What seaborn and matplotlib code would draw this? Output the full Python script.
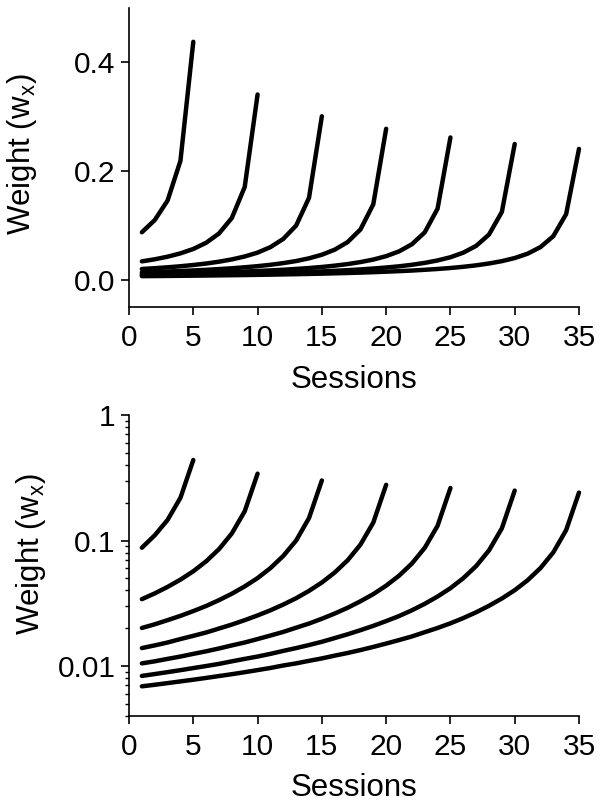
import matplotlib
matplotlib.use("Agg")
import matplotlib.pyplot as plt
import matplotlib.ticker as mticker
import seaborn as sns
import pandas as pd

# weights per session, one list per schedule length
w5 = [0.0876, 0.110, 0.146, 0.219, 0.438]
w10 = [0.0341, 0.0379, 0.0427, 0.0488, 0.0569, 0.0683, 0.0854, 0.114, 0.171, 0.341]
w15 = [0.0201, 0.0215, 0.0232, 0.0251, 0.0274, 0.0301, 0.0335, 0.0377, 0.0431, 0.0502,
       0.0603, 0.0754, 0.100, 0.151, 0.301]
w20 = [0.0139, 0.0146, 0.0154, 0.0164, 0.0174, 0.0185, 0.0199, 0.0214, 0.0232, 0.0253,
       0.0278, 0.0309, 0.0347, 0.0397, 0.0463, 0.0556, 0.0695, 0.0927, 0.139, 0.278]
w25 = [0.0105, 0.0109, 0.0114, 0.0119, 0.0125, 0.0131, 0.0138, 0.0146, 0.0154, 0.0164,
       0.0175, 0.0187, 0.0202, 0.0218, 0.0238, 0.0262, 0.0291, 0.0328, 0.0374, 0.0437,
       0.0524, 0.0655, 0.0874, 0.131, 0.262]
w30 = [0.00834, 0.00863, 0.00894, 0.00927, 0.00963, 0.0100, 0.0104, 0.0109, 0.0114, 0.0119,
       0.0125, 0.0132, 0.0139, 0.0147, 0.0156, 0.0167, 0.0179, 0.0193, 0.0209, 0.0228,
       0.0250, 0.0278, 0.0313, 0.0358, 0.0417, 0.0501, 0.0626, 0.0834, 0.125, 0.250]
w35 = [0.00689, 0.00709, 0.00731, 0.00754, 0.00778, 0.00804, 0.00832, 0.00861, 0.00893, 0.00928,
       0.00965, 0.0101, 0.0105, 0.0110, 0.0115, 0.0121, 0.0127, 0.0134, 0.0142, 0.0151,
       0.0161, 0.0172, 0.0186, 0.0201, 0.0219, 0.0241, 0.0268, 0.0302, 0.0345, 0.0402,
       0.0482, 0.0603, 0.0804, 0.121, 0.241]

series = {5: w5, 10: w10, 15: w15, 20: w20, 25: w25, 30: w30, 35: w35}
x_ticks = [0, 5, 10, 15, 20, 25, 30, 35]
top_yticks = [0.0, 0.2, 0.4]
top_ylabels = ["0.0", "0.2", "0.4"]
log_yticks = [0.01, 0.1, 1]
log_ylabels = ["0.01", "0.1", "1"]

# long-form table
rows = []
for n, vals in series.items():
    for i, v in enumerate(vals):
        rows.append({"N": n, "Session": i + 1, "Weight": v})
df = pd.DataFrame(rows)

sns.set_style("ticks")
plt.rcParams["font.family"] = ["Liberation Sans", "DejaVu Sans"]
plt.rcParams["mathtext.fontset"] = "custom"
plt.rcParams["mathtext.rm"] = "Liberation Sans"
plt.rcParams["mathtext.it"] = "Liberation Sans"
plt.rcParams["text.color"] = "black"
plt.rcParams["axes.labelcolor"] = "black"
plt.rcParams["xtick.color"] = "black"
plt.rcParams["ytick.color"] = "black"

fig = plt.figure(figsize=(6.04, 8.06), dpi=100)
ax1 = fig.add_axes([0.2136, 0.619, 0.745, 0.371])
ax2 = fig.add_axes([0.2136, 0.1117, 0.745, 0.3734])

palette = {n: "black" for n in series}
ylab = r"Weight (w$_{\mathregular{x}}$)"

for ax in (ax1, ax2):
    sns.lineplot(data=df, x="Session", y="Weight", hue="N", palette=palette,
                 legend=False, linewidth=3.2, ax=ax, solid_capstyle="round",
                 clip_on=False)
    ax.set_xlim(0, 35)
    ax.set_xticks(x_ticks)
    ax.set_xlabel("Sessions", fontsize=22.5)
    ax.set_ylabel(ylab, fontsize=22.5)
    ax.tick_params(axis="both", which="major", labelsize=21.5, length=5.8, width=1.2)
    ax.tick_params(axis="x", which="major", pad=6.5)
    ax.tick_params(axis="y", which="major", pad=4)
    ax.tick_params(axis="both", which="minor", length=3, width=1.0)
    for s in ("left", "bottom"):
        ax.spines[s].set_linewidth(1.2)
        ax.spines[s].set_color("black")
    sns.despine(ax=ax)

ax1.set_ylim(-0.05, 0.5)
ax1.set_yticks(top_yticks)
ax1.set_yticklabels(top_ylabels)
ax1.yaxis.set_label_coords(-0.201, 0.512)
ax1.xaxis.set_label_coords(0.5, -0.193)

ax2.set_yscale("log")
ax2.set_ylim(0.004, 1)
ax2.set_yticks(log_yticks)
ax2.set_yticklabels(log_ylabels)
ax2.yaxis.set_minor_locator(mticker.LogLocator(base=10, subs=[2, 3, 4, 5, 6, 7, 8, 9]))
ax2.yaxis.set_minor_formatter(mticker.NullFormatter())
ax2.yaxis.set_label_coords(-0.179, 0.538)
ax2.xaxis.set_label_coords(0.5, -0.189)

fig.savefig("out.png", dpi=100)
